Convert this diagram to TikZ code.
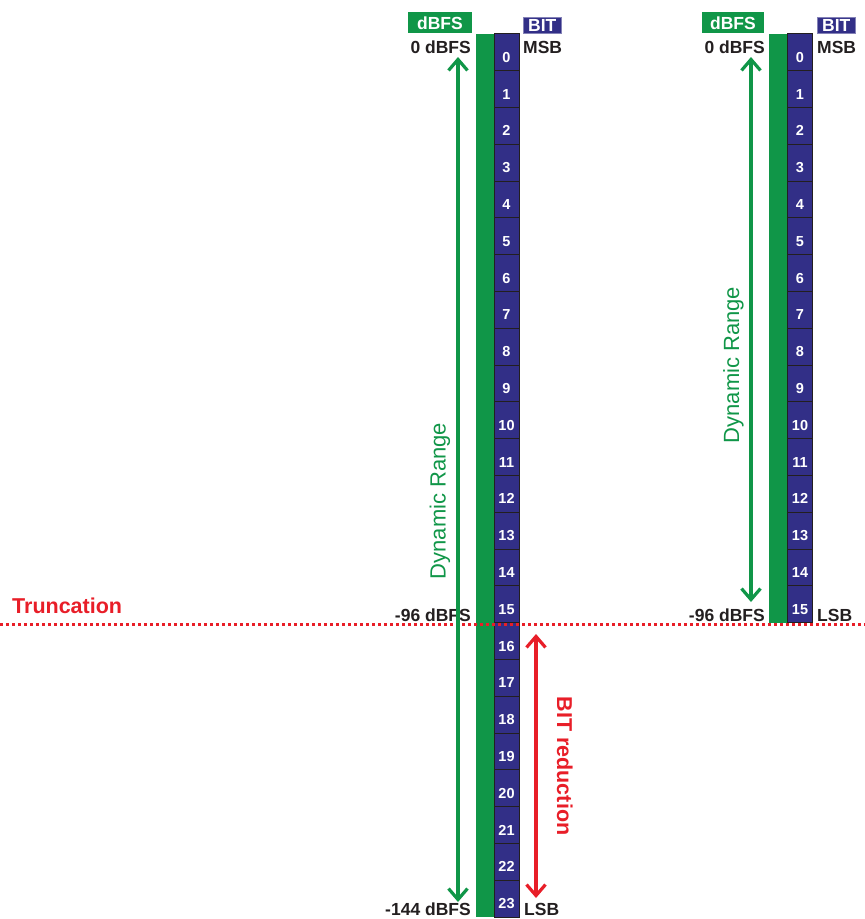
\documentclass[tikz,border=0pt]{standalone}
\usepackage{fontspec}
\setmainfont{Liberation Sans}
\definecolor{DbGreen}{RGB}{16,150,72}
\definecolor{BitBlue}{RGB}{50,47,135}
\definecolor{TruncRed}{RGB}{232,30,40}
\definecolor{InkGray}{RGB}{35,31,32}
\usetikzlibrary{arrows.meta, positioning, calc}

\begin{document}
\begin{tikzpicture}[x=1pt,y=-1pt,
	bitcell/.style={draw=InkGray,line width=0.9pt,fill=BitBlue,text=white,
		minimum width=25pt,minimum height=36.8pt,inner sep=0pt,
		text height=20pt,text depth=0pt,font=\fontsize{14.5}{16}\selectfont\bfseries},
	dbbar/.style={fill=DbGreen,inner sep=0pt,minimum width=18.5pt},
	headbox/.style={inner sep=0pt,text=white,font=\fontsize{17.5}{20}\selectfont\bfseries},
	levtxt/.style={text=InkGray,inner sep=0pt,font=\fontsize{17.5}{20}\selectfont\bfseries},
	rangearrow/.style={DbGreen,line width=3.2pt,
		{Straight Barb[length=11pt,width=19pt]}-{Straight Barb[length=11pt,width=19pt]}},
	cutarrow/.style={TruncRed,line width=3.2pt,
		{Straight Barb[length=11pt,width=19pt]}-{Straight Barb[length=11pt,width=19pt]}},
	rangetxt/.style={DbGreen,inner sep=0pt,font=\fontsize{22}{24}\selectfont}]
\useasboundingbox (0,0) rectangle (865,919);

% 24 bit word
\node[dbbar,minimum height=883.2pt,anchor=north west] (Lbar) at (475.5,33.9) {};
\foreach \i in {0,...,23}{
	\node[bitcell] (L\i) at (506.5,{52.3+36.8*\i}) {\i};
}
% 16 bit word
\node[dbbar,minimum height=588.8pt,anchor=north west] (Rbar) at (768.5,33.9) {};
\foreach \i in {0,...,15}{
	\node[bitcell] (R\i) at (800,{52.3+36.8*\i}) {\i};
}

% headers
\node[headbox,fill=DbGreen,minimum width=64pt,minimum height=21pt] (Lhdb) at (440,22.8) {dBFS};
\node[headbox,fill=BitBlue,draw=BitBlue!60,line width=0.6pt,minimum width=38pt,minimum height=16pt] (Lhbit) at (542.3,25.2) {BIT};
\node[headbox,fill=DbGreen,minimum width=62pt,minimum height=21pt] (Rhdb) at (733,22.8) {dBFS};
\node[headbox,fill=BitBlue,draw=BitBlue!60,line width=0.6pt,minimum width=38pt,minimum height=16pt] (Rhbit) at (836.3,25.2) {BIT};

% levels
\node[levtxt,anchor=base east] (L0db) at (471,53) {0 dBFS};
\node[levtxt,anchor=base west] (Lmsb) at (523,53) {MSB};
\node[levtxt,anchor=base east] (L96db) at (471,621.5) {-96 dBFS};
\node[levtxt,anchor=base east] (L144db) at (471,915.5) {-144 dBFS};
\node[levtxt,anchor=base west] (Llsb) at (524,915.5) {LSB};
\node[levtxt,anchor=base east] (R0db) at (765,53) {0 dBFS};
\node[levtxt,anchor=base west] (Rmsb) at (817,53) {MSB};
\node[levtxt,anchor=base east] (R96db) at (765,621.5) {-96 dBFS};
\node[levtxt,anchor=base west] (Rlsb) at (817,621.5) {LSB};

% truncation
\coordinate (cutW) at (0,624);
\coordinate (cutE) at (865,624);
\draw[TruncRed,line width=3pt,dash pattern=on 3pt off 3pt] (cutW) -- (cutE);
\node[TruncRed,inner sep=0pt,anchor=base west,font=\fontsize{21.5}{24}\selectfont\bfseries] (trunc) at (12,613) {Truncation};

% ranges
\coordinate (LdrT) at (458,57);
\coordinate (LdrB) at (458,902);
\draw[rangearrow] (LdrT) -- (LdrB);
\node[rangetxt,rotate=90,anchor=base] (Ldr) at (445.5,501) {Dynamic Range};
\coordinate (RdrT) at (751,57);
\coordinate (RdrB) at (751,602);
\draw[rangearrow] (RdrT) -- (RdrB);
\node[rangetxt,rotate=90,anchor=base] (Rdr) at (739,365) {Dynamic Range};
\coordinate (redT) at (536,634);
\coordinate (redB) at (536,898);
\draw[cutarrow] (redT) -- (redB);
\node[TruncRed,inner sep=0pt,rotate=-90,anchor=base,font=\fontsize{21.5}{24}\selectfont\bfseries] (bitred) at (557,766) {BIT reduction};
\end{tikzpicture}
\end{document}
